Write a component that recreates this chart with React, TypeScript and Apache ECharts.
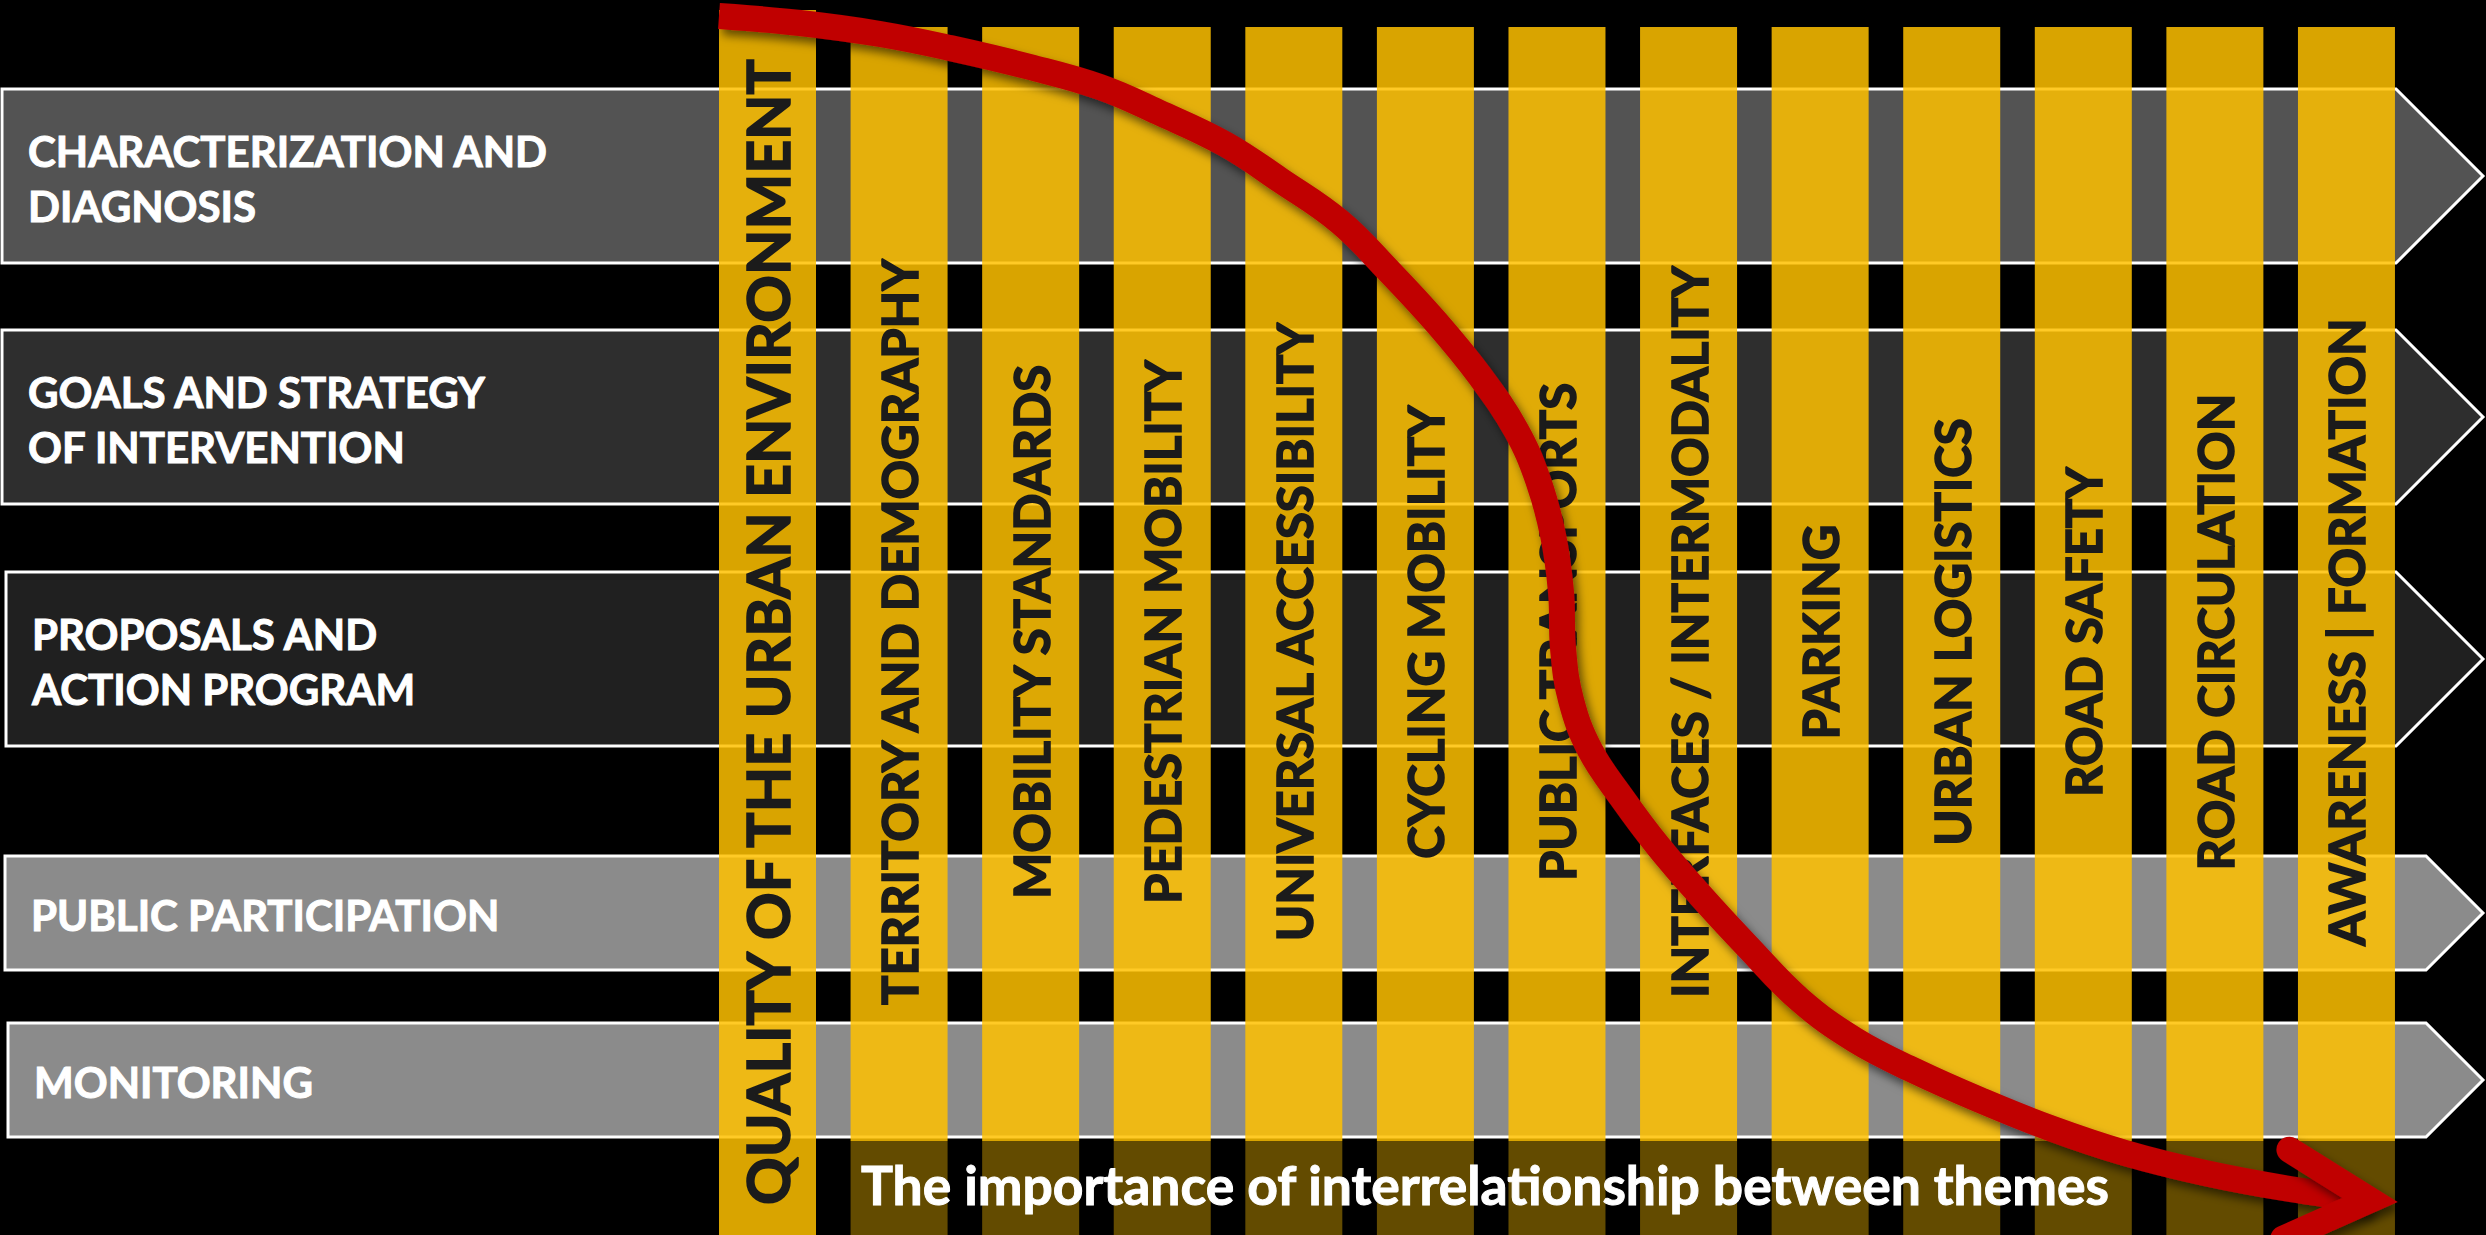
import React, { useEffect, useRef } from "react";
import * as echarts from "echarts";

// ---------- content ----------
const stages = [
  "CHARACTERIZATION AND\nDIAGNOSIS",
  "GOALS AND STRATEGY\nOF INTERVENTION",
  "PROPOSALS AND\nACTION PROGRAM",
  "PUBLIC PARTICIPATION",
  "MONITORING",
];

const themes = [
  "QUALITY OF THE URBAN ENVIRONMENT",
  "TERRITORY AND DEMOGRAPHY",
  "MOBILITY STANDARDS",
  "PEDESTRIAN MOBILITY",
  "UNIVERSAL ACCESSIBILITY",
  "CYCLING MOBILITY",
  "PUBLIC TRANSPORTS",
  "INTERFACES / INTERMODALITY",
  "PARKING",
  "URBAN LOGISTICS",
  "ROAD SAFETY",
  "ROAD CIRCULATION",
  "AWARENESS | FORMATION",
];

const footnote = "The importance of interrelationship between themes";

// red arrow course (x, y in canvas units)
const arrowPath: [number, number][] = [
  [719, 16], [800, 23], [880, 34], [950, 48], [1030, 67], [1100, 87],
  [1158, 112], [1225, 144], [1280, 180], [1340, 222], [1388, 270],
  [1436, 322], [1480, 376], [1516, 430], [1538, 480], [1553, 535],
  [1561, 592], [1563, 648], [1571, 700], [1590, 750], [1622, 798],
  [1658, 846], [1700, 895], [1748, 947], [1800, 1000], [1855, 1040],
  [1915, 1071], [1980, 1100], [2050, 1128], [2125, 1153], [2205, 1173],
  [2290, 1189], [2370, 1200],
];

// ---------- layout ----------
const W = 2486;
const H = 1235;
const bandTop = [89, 330, 572, 856, 1023];
const bandBottom = [263, 504, 746, 970, 1137];
const bandLeft = [2, 2, 6, 5, 8];
const bandFill = ["#535353", "#2e2e2e", "#202020", "#8b8b8b", "#8b8b8b"];
const TIP_X = 2483;
const TEXT_PAD = 26;
const colTop = themes.map((_, i) => (i === 0 ? 10 : 27));
const COL_BASE = 1141;
const LABEL_Y = 632;
const COL_PITCH = 131.58;
const COL_W = 97;
const COL_LEFT = 719 - (COL_PITCH - COL_W) / 2;

const GOLD = "rgba(255,193,0,0.85)";
const BROWN = "rgba(255,193,0,0.39)";
const RED = "#c00000";
const INK = "#1b1b1b";

function buildOption(): any {
  const last = arrowPath[arrowPath.length - 1];
  return {
    animation: false,
    backgroundColor: "#000000",
    grid: [
      { left: 0, top: 0, width: W, height: H },
      { left: COL_LEFT, top: 0, width: COL_PITCH * themes.length, height: H },
    ],
    xAxis: [
      { type: "value", gridIndex: 0, min: 0, max: W, show: false },
      { type: "category", gridIndex: 1, data: themes, show: false, boundaryGap: true },
    ],
    yAxis: [
      { type: "value", gridIndex: 0, min: 0, max: H, inverse: true, show: false },
      { type: "value", gridIndex: 1, min: 0, max: H, inverse: true, show: false },
    ],
    graphic: [
      {
        type: "text",
        x: 861,
        y: 1184,
        z: 20,
        style: {
          text: footnote,
          fill: "#ffffff",
          stroke: "#ffffff",
          lineWidth: 1,
          fontFamily: "Lato",
          fontWeight: "bold",
          fontSize: 53.4,
          verticalAlign: "middle",
          textVerticalAlign: "middle",
        },
      },
    ],
    series: [
      {
        type: "custom",
        name: "stages",
        xAxisIndex: 0,
        yAxisIndex: 0,
        z: 1,
        silent: true,
        data: stages.map((_, i) => [i, i]),
        renderItem: (params: any, api: any) => {
          const i = params.dataIndex;
          const top = bandTop[i];
          const bot = bandBottom[i];
          const mid = (top + bot) / 2;
          const half = (bot - top) / 2;
          const pts = [
            [bandLeft[i], top],
            [TIP_X - half, top],
            [TIP_X, mid],
            [TIP_X - half, bot],
            [bandLeft[i], bot],
          ].map((p) => api.coord(p));
          const tp = api.coord([bandLeft[i] + TEXT_PAD, mid + 2]);
          return {
            type: "group",
            children: [
              {
                type: "polygon",
                shape: { points: pts },
                style: { fill: bandFill[i], stroke: "#ffffff", lineWidth: 3 },
              },
              {
                type: "text",
                x: tp[0],
                y: tp[1],
                style: {
                  text: stages[i],
                  fill: "#ffffff",
                  stroke: "#ffffff",
                  lineWidth: 1,
                  fontFamily: "Lato",
                  fontWeight: "bold",
                  fontSize: 42,
                  lineHeight: 55,
                  align: "left",
                  verticalAlign: "middle",
                },
              },
            ],
          };
        },
      },
      {
        type: "bar",
        name: "lead",
        xAxisIndex: 1,
        yAxisIndex: 1,
        stack: "col",
        barWidth: COL_W,
        silent: true,
        z: 3,
        itemStyle: { color: "transparent" },
        data: colTop,
      },
      {
        type: "bar",
        name: "theme",
        xAxisIndex: 1,
        yAxisIndex: 1,
        stack: "col",
        barWidth: COL_W,
        silent: true,
        z: 3,
        itemStyle: { color: GOLD },
        data: themes.map((_, i) => (i === 0 ? H - colTop[i] : COL_BASE - colTop[i])),
      },
      {
        type: "bar",
        name: "base",
        xAxisIndex: 1,
        yAxisIndex: 1,
        stack: "col",
        barWidth: COL_W,
        silent: true,
        z: 3,
        itemStyle: { color: BROWN },
        data: themes.map((_, i) => (i === 0 ? 0 : H - COL_BASE)),
      },
      {
        type: "custom",
        name: "themeLabels",
        xAxisIndex: 1,
        yAxisIndex: 1,
        z: 4,
        silent: true,
        data: themes.map((_, i) => [i, LABEL_Y]),
        renderItem: (params: any, api: any) => {
          const i = params.dataIndex;
          const p = api.coord([i, LABEL_Y]);
          return {
            type: "text",
            x: p[0],
            y: p[1],
            rotation: Math.PI / 2,
            style: {
              text: themes[i],
              fill: INK,
              stroke: INK,
              lineWidth: 1.6,
              fontFamily: "Lato",
              fontWeight: "bold",
              fontSize: i === 0 ? 59 : 49,
              align: "center",
              verticalAlign: "middle",
            },
          };
        },
      },
      {
        type: "line",
        name: "arrow",
        xAxisIndex: 0,
        yAxisIndex: 0,
        z: 6,
        silent: true,
        smooth: 0.4,
        symbol: "none",
        showSymbol: false,
        data: arrowPath,
        lineStyle: {
          color: RED,
          width: 26,
          cap: "butt",
          join: "round",
          shadowColor: "rgba(0,0,0,0.55)",
          shadowBlur: 10,
          shadowOffsetX: 4,
          shadowOffsetY: 6,
        },
      },
      {
        type: "custom",
        name: "arrowHead",
        xAxisIndex: 0,
        yAxisIndex: 0,
        z: 7,
        silent: true,
        data: [last],
        renderItem: (params: any, api: any) => {
          const p = api.coord(last);
          const a = (4 * Math.PI) / 180;
          const h = (28 * Math.PI) / 180;
          const L = 95;
          const up = [p[0] - L * Math.cos(a + h), p[1] - L * Math.sin(a + h)];
          const lo = [p[0] - L * Math.cos(a - h), p[1] - L * Math.sin(a - h)];
          return {
            type: "polyline",
            shape: { points: [up, p, lo] },
            style: {
              stroke: RED,
              lineWidth: 26,
              fill: null,
              lineJoin: "miter",
              miterLimit: 10,
              lineCap: "round",
              shadowColor: "rgba(0,0,0,0.55)",
              shadowBlur: 10,
              shadowOffsetX: 4,
              shadowOffsetY: 6,
            },
          };
        },
      },
    ],
  };
}

export default function App() {
  const ref = useRef<HTMLDivElement>(null);
  useEffect(() => {
    if (!ref.current) return;
    const chart = echarts.init(ref.current, null, { renderer: "svg" });
    chart.setOption(buildOption());
    return () => chart.dispose();
  }, []);
  return (
    <div
      ref={ref}
      style={{ position: "fixed", left: 0, top: 0, width: W, height: H, background: "#000" }}
    />
  );
}
